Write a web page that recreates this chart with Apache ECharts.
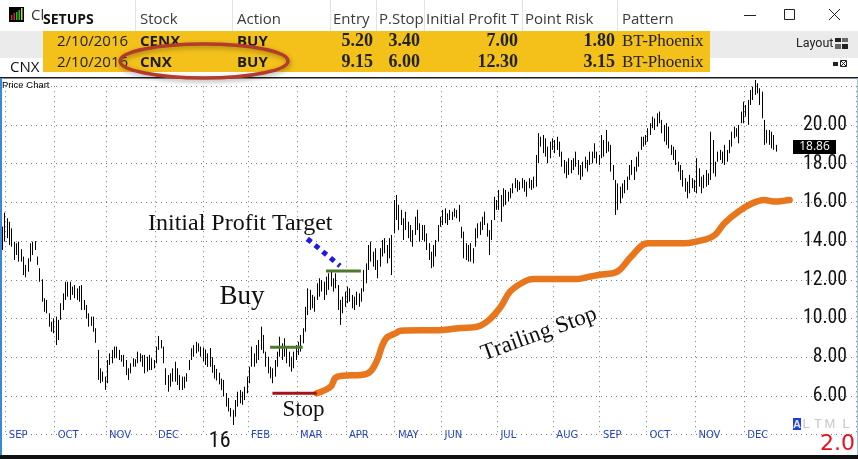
<!DOCTYPE html>
<html><head><meta charset="utf-8">
<script src="https://cdn.jsdelivr.net/npm/echarts@6/dist/echarts.min.js"></script>
<style>html,body{margin:0;padding:0;background:#fff;overflow:hidden}#c{width:858px;height:459px}</style>
</head><body><div id="c"></div>
<script>
// ---------- DATA ----------
const highs = [
14.75,15.47,15.18,15.0,14.66,13.97,13.89,13.97,13.58,13.2, 12.77,13.11,13.89,13.97,14.0,13.2,12.6,12.03,11.05,10.96,
10.27,9.84,10.01,10.1,9.93,10.79,11.3,11.9,11.9,11.9, 11.65,11.73,11.56,11.68,11.73,10.96,10.7,10.27,10.1,10.1,
9.5,8.38,7.43,7.26,7.0,7.86,8.2,8.38,8.55,8.55, 8.38,8.12,8.12,7.86,7.43,7.69,7.95,7.9,8.29,8.2,
8.12,8.12,8.03,8.12,7.95,7.86,8.55,9.1,8.89,8.55, 7.43,7.08,7.17,7.43,7.77,7.43,7.08,7.0,7.0,7.17,
7.86,8.46,8.63,8.8,8.72,8.55,
8.5,8.4,8.2,8.48,8.0,7.6,7.4,7.2,6.9,6.83, 6.15,5.9,5.38,5.28,5.79,6.22,6.31,6.22,6.48,7.0,
7.51,8.55,8.2,8.63,8.89,9.58,9.15,8.29,8.03,7.51, 7.43,7.86,8.29,9.06,8.72,8.98,8.55,8.29,8.03,8.29,
8.63,8.8,9.15,9.5,10.61,11.56,11.48,11.22,11.13,11.82, 12.08,11.99,11.9,12.16,12.34,12.51,12.08,12.34,11.73,10.96,
11.13,11.39,11.65,11.56,11.22,11.13,11.39,11.3,11.56,12.51, 12.85,13.8,13.97,13.45,13.63,13.02,13.63,14.06,14.15,13.8,
14.15,14.32,16.12,
16.38,15.87,15.61,15.18,15.52,15.0,14.83,14.57,15.26,15.61, 14.92,14.83,14.83,14.4,13.89,13.45,13.8,14.06,14.83,15.26,
15.61,15.69,15.43,15.61,15.52,15.69,15.61,15.87,14.74,14.49, 13.89,13.8,13.89,13.63,14.66,14.92,15.0,15.26,15.52,14.92,
14.57,15.09,16.29,16.12,16.64,16.38,16.73,16.64,16.55,16.73, 16.98,17.25,17.16,17.07,17.25,17.16,17.07,17.25,17.16,17.33,
18.45,19.57,19.39,19.48,19.31,18.88,19.14,19.31,19.22,19.39, 19.14,18.62,18.19,18.1,18.28,18.19,18.28,18.62,18.19,17.93,
18.1,18.36,18.19,18.62,
18.62,19.05,18.62,18.45,19.48,19.22,19.74,19.14,18.97,17.93, 17.16,16.98,16.81,16.98,17.16,17.33,17.93,18.19,17.84,18.36,
18.62,19.39,19.39,19.48,19.83,20.09,20.43,20.34,20.6,20.69, 20.26,20.0,20.09,19.91,18.97,18.88,18.71,18.1,17.93,17.67,
17.25,17.07,17.42,17.25,17.16,18.28,17.76,17.33,17.42,17.67, 17.5,19.65,19.22,18.1,18.62,18.71,18.62,18.97,18.71,19.22,
19.65,19.91,19.83,20.0,20.69,21.2,21.03,21.29,21.81,21.98, 22.32,22.15,21.89,21.72,20.26,19.74,19.74,19.65,19.48,18.97
];
const lows = [
13.54,13.97,14.15,13.8,13.71,13.02,13.28,12.94,12.94,12.25, 12.13,12.42,12.94,13.28,13.54,12.77,11.9,10.87,10.35,10.27,
9.58,9.32,9.24,8.63,8.89,9.93,10.44,10.96,11.13,10.96, 11.22,11.05,10.96,10.87,10.44,10.44,10.01,9.58,9.62,9.32,
8.75,6.83,6.66,6.74,6.31,6.66,7.6,7.69,7.95,7.95, 7.86,7.77,7.51,7.08,6.83,7.17,7.51,7.51,7.69,7.77,
7.51,7.17,7.26,7.34,7.34,7.43,7.69,8.38,8.46,7.69, 6.57,6.22,6.48,6.74,6.74,6.57,6.31,6.31,6.4,6.74,
7.34,7.86,8.03,8.2,8.29,8.03,
7.8,7.6,7.5,7.51,7.2,6.9,6.8,6.6,6.3,5.97, 5.45,5.2,4.93,4.5,4.93,5.45,5.62,5.54,5.79,6.14,
6.66,7.51,7.51,7.69,7.86,8.38,8.2,7.51,7.17,6.91, 6.66,7.0,7.51,8.03,7.86,8.03,7.69,7.51,7.26,7.43,
7.86,8.12,8.29,8.72,9.32,10.18,10.44,10.53,10.35,10.96, 11.13,11.39,10.96,11.22,11.48,11.65,11.39,11.56,10.44,9.67,
10.27,10.61,10.79,10.87,10.53,10.44,10.7,10.61,10.87,11.39, 11.82,12.51,12.94,12.68,12.51,12.08,12.68,13.2,13.37,12.85,
13.11,12.25,14.4,
15.09,14.57,14.83,14.06,14.57,14.15,13.97,13.71,14.32,14.57, 13.97,14.06,13.97,13.54,13.02,12.6,12.68,13.2,13.97,14.74,
14.83,14.92,14.83,15.09,15.09,15.26,15.18,15.0,14.15,13.11, 13.02,12.94,12.94,12.85,13.71,14.15,14.32,14.57,14.83,14.23,
13.28,14.06,15.09,15.61,15.61,15.0,15.78,15.87,16.04,16.21, 16.47,16.73,16.55,16.64,16.73,16.55,16.29,16.73,16.64,16.73,
16.81,18.02,18.88,18.54,18.36,18.02,18.28,18.71,18.54,18.71, 18.36,17.84,17.5,17.25,17.42,17.5,17.67,17.84,17.42,17.16,
17.33,17.76,17.59,17.93,
18.02,18.28,18.02,17.93,18.28,18.36,18.54,18.62,17.59,17.16, 15.35,15.61,15.95,16.21,16.47,16.64,17.16,17.42,17.16,17.59,
17.84,18.71,18.88,18.97,19.14,19.48,19.83,19.74,19.91,20.09, 19.57,19.14,18.97,18.79,18.45,18.19,17.93,17.59,17.16,16.81,
16.55,16.21,16.47,16.73,16.55,16.47,16.81,16.47,16.73,16.81, 16.9,17.16,17.5,17.33,18.1,18.19,18.02,17.93,18.1,18.54,
18.88,19.31,19.39,19.05,20.09,20.09,20.43,20.0,21.03,21.29, 21.55,21.63,21.03,20.34,18.97,19.05,18.97,18.79,18.71,18.62
];
const lastClose = 18.86;
const monthIdx   = [2,23,45,66,87,106,127,148,169,189,213,237,257,277,298,319];
const monthNames = ['SEP','OCT','NOV','DEC','16','FEB','MAR','APR','MAY','JUN','JUL','AUG','SEP','OCT','NOV','DEC'];
const trailIdx = [135,141,143,146,154,158,161,163,165,169,171,189,197,204,209,214,218,224,228,247,252,256,264,270,277,282,293,302,306,310,316,322,327,332,336,338];
const trailVal = [6.14,6.48,6.93,7.05,7.08,7.26,7.86,8.55,9.0,9.25,9.37,9.41,9.51,9.58,9.93,10.61,11.39,11.9,12.04,12.04,12.16,12.25,12.42,13.2,13.89,13.89,13.89,14.09,14.32,14.92,15.52,15.95,16.12,16.04,16.09,16.12];
const buyLine    = [[115, 8.52], [129, 8.52]];
const stopLine   = [[116, 6.14], [135, 6.14]];
const targetLine = [[139, 12.46], [154, 12.46]];
const arrowLine  = [[130.5, 14.12], [144.5, 12.72]];
const yLabelMin = 6, yLabelMax = 20;
const setupHeaders = ['Stock','Action','Entry','P.Stop','Initial Profit T','Point Risk','Pattern'];
const setupDates   = ['2/10/2016','2/10/2016'];
const setupStocks  = ['CENX','CNX'];
const setupActions = ['BUY','BUY'];
const setupEntry   = [5.20, 9.15];
const setupStop    = [3.40, 6.00];
const setupTarget  = [7.00, 12.30];
const setupRisk    = [1.80, 3.15];
const setupPattern = ['BT-Phoenix','BT-Phoenix'];

// ---------- FONT PICK (narrow font for price scale) ----------
const mctx = document.createElement('canvas').getContext('2d');
function wOf(font, s) { mctx.font = font; return mctx.measureText(s).width; }
function hasFont(f) {
  const s = '20.00 abcMWxyz';
  return wOf("100px monospace", s) !== wOf("100px '" + f + "', monospace", s) ||
         wOf("100px serif", s) !== wOf("100px '" + f + "', serif", s);
}
const narrowCands = ['Liberation Sans Narrow', 'Arial Narrow', 'Roboto Condensed'];
let NFAM = null;
for (const f of narrowCands) { if (hasFont(f)) { NFAM = f; break; } }
const NARROW = NFAM ? "'" + NFAM + "',sans-serif" : "'Liberation Sans',Arial,sans-serif";
const yFontSize = NFAM ? Math.min(22, 100 * 44 / wOf('100px ' + NARROW, '20.00')) : 20;
const yrFontSize = NFAM ? 22 : 21;

// ---------- CHART ----------
const N_CAT = 367;
const cats = Array.from({length: N_CAT}, (_, i) => 'd' + i);
const monthSet = new Set(monthIdx);
const chart = echarts.init(document.getElementById('c'), null, {renderer: 'canvas'});

function T(x, y, text, o) {
  o = o || {};
  return {type: 'text', x: x, y: y, z: o.z || 50, rotation: o.rot || 0, silent: true,
    style: {text: text, x: 0, y: 0, fill: o.fill || '#1a1a1a',
      font: (o.weight || 'normal') + ' ' + (o.size || 15) + 'px ' + (o.family || "'Open Sans',sans-serif"),
      align: o.align || 'left', textAlign: o.align || 'left',
      verticalAlign: 'middle', textVerticalAlign: 'middle'}};
}
function R(x, y, w, h, fill, z) { return {type: 'rect', z: z || 40, silent: true, shape: {x: x, y: y, width: w, height: h}, style: {fill: fill}}; }
function L(x1, y1, x2, y2, stroke, lw, z) { return {type: 'line', z: z || 45, silent: true, shape: {x1: x1, y1: y1, x2: x2, y2: y2}, style: {stroke: stroke, lineWidth: lw || 1}}; }

const g = [];
// window / header
g.push(R(0, 0, 858, 31, '#ffffff', 30));
[135, 232, 330, 376, 424, 522, 617].forEach(x => g.push(L(x + 0.5, 0, x + 0.5, 31, '#e2e2e2', 1, 31)));
g.push(R(9, 7, 15, 15, '#000', 40));
[[11, 15, 5, '#e02020'], [13.5, 13, 7, '#e02020'], [16, 12, 8, '#22c022'], [18.5, 10, 10, '#22c022'], [21, 8, 12, '#e0d020']].forEach(b => g.push(R(b[0], b[1], 1.5, b[2], b[3], 41)));
g.push(T(31, 16, 'Ch', {fill: '#333'}));
g.push(R(43, 2, 90, 28, '#ffffff', 51));
g.push(T(43, 20, 'SETUPS', {weight: 'bold', size: 14, fill: '#111', z: 52}));
const hdrX = [140, 237, 333, 379, 426, 525, 622];
setupHeaders.forEach((h, i) => g.push(T(hdrX[i], 20, h, {fill: '#3a3a3a'})));
g.push(L(744, 15.5, 756, 15.5, '#222', 1));
g.push({type: 'rect', z: 45, silent: true, shape: {x: 784.5, y: 9.5, width: 10, height: 10}, style: {fill: 'none', stroke: '#222', lineWidth: 1}});
g.push(L(829, 9, 840, 20, '#222', 1)); g.push(L(840, 9, 829, 20, '#222', 1));
// rows
g.push(R(0, 31, 858, 27, '#ebebeb', 32));
g.push(R(43, 31, 667, 41, '#F4C11A', 33));
const rowY = [41.5, 62.5];
for (let r = 0; r < 2; r++) {
  const y = rowY[r];
  g.push(T(57, y, setupDates[r], {fill: '#222'}));
  g.push(T(140, y, setupStocks[r], {weight: 'bold', fill: '#1a1a1a'}));
  g.push(T(237, y, setupActions[r], {weight: 'bold', fill: '#1a1a1a'}));
  const sf = "'Liberation Serif',serif";
  g.push(T(373, y, setupEntry[r].toFixed(2), {weight: 'bold', size: 18, family: sf, align: 'right', fill: '#222'}));
  g.push(T(420, y, setupStop[r].toFixed(2), {weight: 'bold', size: 18, family: sf, align: 'right', fill: '#222'}));
  g.push(T(518, y, setupTarget[r].toFixed(2), {weight: 'bold', size: 18, family: sf, align: 'right', fill: '#222'}));
  g.push(T(615, y, setupRisk[r].toFixed(2), {weight: 'bold', size: 18, family: sf, align: 'right', fill: '#222'}));
  g.push(T(622, y, setupPattern[r], {size: 17, family: sf, fill: '#222'}));
}
g.push(T(796, 44, 'Layout', {size: 12.5, family: "'Roboto',sans-serif", fill: '#222'}));
g.push(R(835, 38, 6, 4, '#222', 45)); g.push(R(842, 38, 6, 4, '#666', 45));
g.push(R(835, 44, 6, 5, '#666', 45)); g.push(R(842, 44, 6, 5, '#222', 45));
g.push(R(833, 62, 5, 4, '#222', 45));
g.push({type: 'rect', z: 45, silent: true, shape: {x: 840.5, y: 60.5, width: 6, height: 6}, style: {fill: 'none', stroke: '#222', lineWidth: 1}});
g.push(L(841, 61, 846, 66, '#222', 1)); g.push(L(846, 61, 841, 66, '#222', 1));
g.push(T(10, 68, 'CNX', {fill: '#111'}));
g.push(R(0, 77, 858, 1.6, '#1a1a1a', 45));
g.push({type: 'ellipse', z: 60, silent: true, shape: {cx: 204, cy: 61, rx: 84, ry: 17},
  style: {fill: 'none', stroke: '#b23b2c', lineWidth: 3.5, shadowBlur: 5, shadowColor: 'rgba(0,0,0,0.35)', shadowOffsetX: 1, shadowOffsetY: 2}});
// chart frame
g.push(R(0, 78, 2, 377, '#3a86d8', 45));
g.push(R(857, 78, 1, 377, '#9cc0e8', 45));
g.push(T(2, 85.5, 'Price Chart', {size: 9.5, family: "'Liberation Sans',sans-serif", fill: '#000'}));
g.push(R(0, 455, 858, 4, '#111', 45));
// annotations text
const SERIF = "'Liberation Serif',serif";
g.push(T(148, 223.5, 'Initial Profit Target', {size: 24, family: SERIF, fill: '#111'}));
g.push(T(242, 296.5, 'Buy', {size: 27, family: SERIF, fill: '#111', align: 'center'}));
g.push(T(303.5, 410, 'Stop', {size: 23, family: SERIF, fill: '#111', align: 'center'}));
g.push(T(539, 334, 'Trailing Stop', {size: 23, family: SERIF, fill: '#111', align: 'center', rot: 20 * Math.PI / 180}));
// bottom-right indicators
g.push(R(793, 418, 8, 12, '#1f3fd6', 45));
g.push(T(797, 424.5, 'A', {size: 11, weight: 'bold', family: "'Liberation Sans',sans-serif", fill: '#dfe6ff', align: 'center'}));
[['L', 806], ['T', 818], ['M', 830], ['L', 846]].forEach(p => g.push(T(p[1], 424.5, p[0], {size: 13, family: "'Liberation Sans',sans-serif", fill: '#c6c6c6', align: 'center'})));
g.push(T(855, 444, '2.0', {size: 22, family: "'DejaVu Sans',sans-serif", fill: '#e8101a', align: 'right'}));

const dotted = {type: [1, 4], color: '#777', width: 1};
const option = {
  animation: false,
  backgroundColor: '#fff',
  grid: {left: 1, right: 2, top: 86.2, bottom: 24.3, containLabel: false, outerBoundsMode: 'none'},
  xAxis: {
    type: 'category', data: cats, boundaryGap: true,
    axisLine: {show: false}, axisTick: {show: false},
    axisLabel: {
      interval: (i) => monthSet.has(i), align: 'left', margin: -4,
      color: '#2545c5', fontSize: 10, fontFamily: "'DejaVu Sans',sans-serif", padding: [0, 0, 0, 2],
      formatter: (v, i) => { const k = monthIdx.indexOf(i); if (k < 0) return ''; const n = monthNames[k]; return /^\d+$/.test(n) ? '{yr|' + n + '}' : n; },
      rich: {yr: {fontSize: yrFontSize, fontFamily: NARROW, color: '#111', padding: [0, 0, 0, 2]}}
    },
    splitLine: {show: true, interval: (i) => monthSet.has(i), lineStyle: dotted}
  },
  yAxis: {
    type: 'value', position: 'right', min: 4, max: 22, interval: 2,
    axisLine: {show: false}, axisTick: {show: false},
    axisLabel: {inside: true, margin: 9, align: 'right', fontSize: yFontSize, fontFamily: NARROW, color: '#111',
      formatter: v => (v >= yLabelMin && v <= yLabelMax) ? v.toFixed(2) : ''},
    splitLine: {lineStyle: dotted}
  },
  series: [
    {type: 'custom', clip: false, z: 5,
      data: highs.map((h, i) => [i, h, lows[i]]),
      encode: {x: 0, y: [1, 2]},
      renderItem: (p, api) => {
        const a = api.coord([api.value(0), api.value(1)]);
        const b = api.coord([api.value(0), api.value(2)]);
        const x = Math.round(a[0]) + 0.5;
        return {type: 'line', shape: {x1: x, y1: a[1], x2: x, y2: b[1]}, style: {stroke: '#000', lineWidth: 1}};
      }},
    {type: 'line', z: 6, data: trailIdx.map((x, i) => [x, trailVal[i]]), smooth: 0.35, symbol: 'none',
      lineStyle: {color: '#E8761C', width: 6.5, cap: 'round', join: 'round'}},
    {type: 'line', z: 7, data: buyLine, symbol: 'none', lineStyle: {color: '#4d7a2c', width: 3}},
    {type: 'line', z: 7, data: targetLine, symbol: 'none', lineStyle: {color: '#4d7a2c', width: 3}},
    {type: 'line', z: 7, data: stopLine, symbol: 'none', lineStyle: {color: '#a51515', width: 3}},
    {type: 'line', z: 7, data: arrowLine, symbol: 'none', lineStyle: {color: '#1a1aee', width: 5, type: [5, 5]}}
  ],
  graphic: {elements: g}
};
chart.setOption(option);
const yTag = chart.convertToPixel({yAxisIndex: 0}, lastClose);
g.push(R(793, yTag - 7, 43, 14, '#000', 70));
g.push(T(814.5, yTag, lastClose.toFixed(2), {size: 12, fill: '#fff', align: 'center', z: 71}));
option.graphic = {elements: g};
chart.setOption(option, true);
</script></body></html>
